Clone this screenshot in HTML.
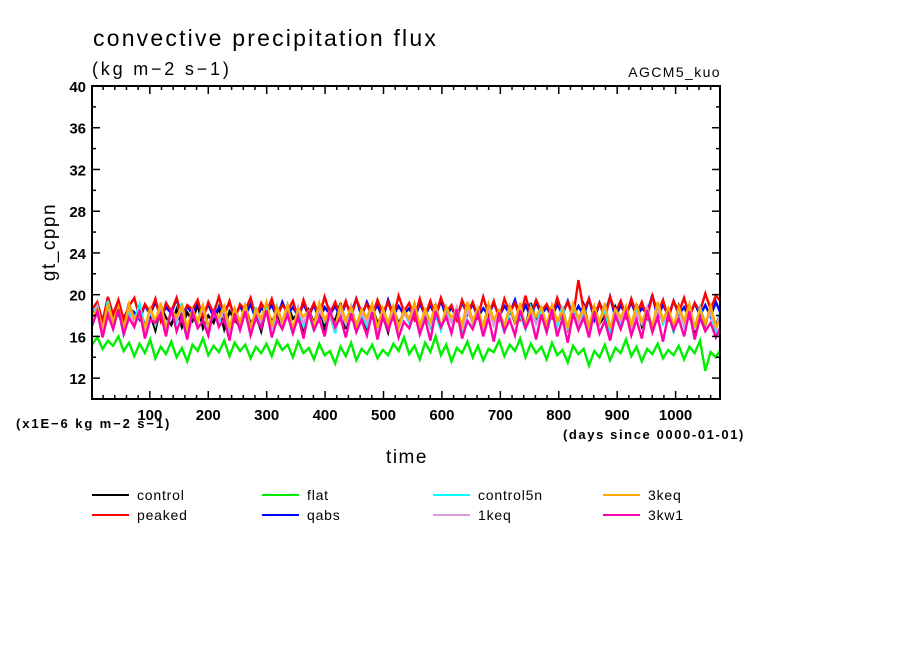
<!DOCTYPE html>
<html><head><meta charset="utf-8"><style>
body{margin:0;background:#fff;}
svg{display:block;font-family:"Liberation Sans",sans-serif;}
</style></head><body>
<svg id="chart" width="904" height="654">
<text x="93" y="46" font-size="23" letter-spacing="2.2">convective precipitation flux</text>
<text x="92" y="75" font-size="18" letter-spacing="2.8">(kg m−2 s−1)</text>
<text x="721" y="77" font-size="14" letter-spacing="1.4" text-anchor="end">AGCM5_kuo</text>
<g id="plot"></g>
<text transform="translate(55,242) rotate(-90)" font-size="19" letter-spacing="1.5" text-anchor="middle">gt_cppn</text>
<text x="16" y="428" font-size="13" font-weight="bold" letter-spacing="1.9">(x1E−6 kg m−2 s−1)</text>
<text x="745" y="439" font-size="13" font-weight="bold" letter-spacing="1.6" text-anchor="end">(days since 0000-01-01)</text>
<text x="407" y="463" font-size="19" letter-spacing="1.5" text-anchor="middle">time</text>
<g id="legend"></g>
</svg>
<script>
const names=["control","peaked","flat","qabs","control5n","1keq","3keq","3kw1"];
const colors=["#000000","#ff0000","#00ee00","#0000ff","#00ffff","#dd99dd","#ffaa00","#ff00aa"];
const days=[];for(let i=0;i<120;i++)days.push(1+i*9.05);
const control=[17.2,18.5,16.9,19.0,17.6,18.2,16.8,19.2,17.4,18.7,17.0,18.1,16.6,18.9,17.8,17.1,18.6,16.9,18.3,17.5,19.1,16.8,18.0,17.3,18.8,16.7,18.4,17.6,16.9,18.9,17.2,18.1,16.5,18.7,17.4,18.3,16.9,19.0,17.7,18.2,16.6,18.5,17.3,18.9,16.8,18.0,17.5,19.2,16.7,18.6,17.1,18.4,16.6,18.8,17.3,18.0,16.4,18.7,17.2,18.3,17.5,18.9,16.7,18.2,17.0,19.1,16.8,18.5,17.4,18.0,16.5,18.8,17.6,18.3,16.9,19.0,17.2,18.4,16.6,18.7,17.3,18.1,16.8,19.2,17.5,18.3,16.4,18.9,17.1,18.5,16.7,18.2,17.4,19.0,16.9,18.6,17.2,18.0,16.3,18.8,17.6,18.2,16.8,19.1,17.0,18.4,16.5,18.7,17.3,18.1,16.6,18.9,17.4,18.3,16.2,18.6,17.1,18.8,16.9,18.5];
const peaked=[18.6,19.3,17.4,19.8,18.1,19.5,17.6,18.9,19.7,17.8,19.1,18.3,19.6,17.5,19.2,18.4,19.7,17.9,19.0,18.6,19.5,17.7,19.3,18.2,19.8,18.0,19.4,17.6,19.1,18.5,19.7,17.8,19.2,18.3,19.6,17.9,19.0,18.4,19.4,17.7,19.5,18.1,19.2,17.9,19.8,18.2,19.3,18.0,19.4,17.8,19.6,18.3,19.1,17.9,19.5,18.2,19.3,17.8,19.9,18.4,19.2,17.7,19.6,18.0,19.4,17.9,19.7,18.3,19.0,17.6,19.5,18.2,19.3,17.9,19.8,18.1,19.4,17.7,19.6,18.3,19.2,17.8,19.9,18.0,19.5,18.4,19.1,17.9,19.7,18.2,19.3,17.8,21.4,18.5,19.6,18.0,19.2,17.7,19.8,18.3,19.4,17.9,19.6,18.1,19.3,17.8,19.9,18.2,19.5,17.7,19.4,18.3,19.7,17.9,19.2,18.4,20.1,18.6,19.9,19.3];
const flat=[15.2,15.9,14.8,15.6,15.1,16.0,14.6,15.4,14.1,15.3,14.4,15.7,13.9,15.0,14.3,15.5,14.0,14.9,13.6,15.2,14.6,15.8,14.2,15.1,14.5,15.6,14.1,15.4,14.6,15.2,13.9,15.0,14.4,15.3,14.1,15.6,14.7,15.2,14.0,15.5,14.4,14.9,13.8,15.3,14.2,14.6,13.4,15.0,14.1,15.4,13.7,14.8,14.3,15.2,13.9,14.7,14.2,15.3,14.6,15.9,14.3,15.1,13.8,15.4,14.5,16.0,14.2,15.2,13.6,14.9,14.4,15.5,14.0,15.1,13.7,14.8,14.5,15.6,14.1,15.2,14.6,15.8,14.0,15.3,14.4,15.0,13.8,15.4,14.2,14.7,13.5,15.1,14.3,14.8,13.2,14.6,14.0,15.2,13.7,14.9,14.4,15.7,14.1,15.0,13.6,14.8,14.3,15.3,13.9,14.7,14.2,15.1,13.8,15.0,14.4,15.6,12.7,14.5,14.0,14.8];
const qabs=[18.1,18.8,17.6,19.2,17.9,18.9,17.8,18.7,18.3,17.6,19.0,18.1,19.3,17.9,18.8,18.2,19.6,17.7,18.9,18.1,19.3,17.9,19.1,17.8,18.8,18.4,19.2,17.9,18.9,18.0,19.1,17.6,18.7,18.2,19.0,17.8,19.3,18.1,18.8,17.9,19.1,18.0,19.0,17.6,18.8,18.1,18.9,17.8,19.2,18.2,19.6,17.9,19.3,18.1,19.0,17.7,19.5,18.0,18.9,18.1,18.7,17.6,19.2,18.0,19.0,17.9,19.4,17.9,18.8,17.7,19.3,18.1,19.1,17.8,18.7,18.0,19.2,17.9,18.9,18.2,19.5,17.7,19.0,17.9,19.3,18.1,18.8,17.8,19.1,18.1,19.4,17.9,18.9,18.0,19.6,17.6,19.2,18.1,19.8,17.8,19.0,18.0,19.3,17.9,18.7,18.2,20.0,17.7,19.1,17.9,19.4,18.1,18.8,17.8,19.2,18.0,19.0,17.9,19.3,18.1];
const control5n=[17.8,18.9,16.4,19.4,17.2,18.6,16.1,18.3,17.5,19.1,16.7,18.4,17.1,18.8,16.5,18.5,17.4,19.2,16.3,18.1,17.6,18.9,16.6,18.4,17.2,19.0,16.1,18.6,17.5,18.2,16.4,18.8,17.1,18.5,16.7,18.9,17.3,18.1,16.2,18.6,17.0,18.3,16.5,18.9,17.4,18.0,16.3,18.7,17.2,18.5,16.6,18.2,17.0,18.8,16.4,18.3,17.1,18.6,16.9,18.4,17.3,18.9,16.2,18.5,17.0,18.1,16.6,18.8,17.4,18.3,16.1,18.7,17.2,18.4,16.5,18.9,17.1,18.2,16.3,18.6,17.5,18.0,16.7,18.8,17.2,18.5,16.4,18.3,17.0,18.9,16.6,18.4,17.3,18.1,16.2,18.7,17.4,18.5,16.5,18.2,17.1,18.8,16.3,18.6,17.5,18.1,16.7,18.9,17.2,18.3,16.4,18.6,17.0,18.4,16.6,18.8,17.3,18.2,16.5,18.7];
const keq1=[17.5,18.8,16.6,18.3,17.1,18.6,16.8,18.9,17.4,18.0,16.7,18.5,17.2,18.9,16.9,18.2,17.6,18.7,16.5,18.4,17.3,18.8,16.8,18.1,17.5,18.6,16.7,18.3,17.2,18.9,16.6,18.5,17.4,18.1,16.9,18.7,17.1,18.4,16.6,18.8,17.3,18.2,16.8,18.6,17.5,18.0,16.7,18.5,17.2,18.9,16.9,18.3,17.4,18.7,16.6,18.4,17.1,18.6,16.8,18.2,17.5,18.9,16.7,18.4,17.2,18.6,16.9,18.1,17.4,18.8,16.6,18.5,17.3,18.2,16.8,18.7,17.1,18.4,16.7,18.9,17.5,18.3,16.9,18.6,17.2,18.0,16.6,18.8,17.4,18.5,16.8,18.2,17.1,18.7,16.7,18.4,17.3,18.9,16.9,18.3,17.5,18.6,16.6,18.1,17.2,18.8,16.8,18.5,17.4,18.2,16.7,18.7,17.1,18.4,16.9,18.6,17.3,18.3,16.8,18.2];
const keq3=[17.9,18.6,16.8,19.0,17.4,18.8,16.6,19.1,17.7,18.3,16.9,18.7,17.5,19.2,16.7,18.5,17.9,18.9,16.8,18.6,17.4,19.0,17.0,18.4,17.8,18.9,16.9,18.7,17.3,19.1,16.8,18.6,17.7,19.3,17.0,18.8,17.4,19.0,16.7,18.6,17.9,18.4,17.1,19.2,17.6,18.5,16.9,19.0,17.5,18.8,17.0,18.6,17.8,19.1,16.8,18.7,17.3,18.9,16.9,18.5,17.7,19.2,17.0,18.6,17.4,19.0,16.8,18.8,17.8,18.4,17.1,19.3,17.5,18.7,16.9,19.1,17.6,18.5,17.0,18.9,17.4,19.2,16.8,18.6,17.9,18.8,17.1,19.0,17.5,18.4,16.9,19.1,17.7,18.7,17.0,18.9,17.3,19.2,16.8,18.6,17.8,18.9,17.1,19.0,17.4,18.5,16.9,19.3,17.6,18.7,17.0,18.8,17.5,19.1,16.8,18.6,17.2,18.9,16.9,17.6];
const kw1=[17.0,18.4,15.9,18.1,16.7,18.6,16.2,17.8,16.9,18.5,15.8,17.6,17.3,18.2,16.0,18.7,16.5,17.9,15.7,18.3,16.8,17.5,16.1,18.6,16.9,17.7,15.6,18.2,16.6,18.4,16.1,17.8,16.8,18.5,15.9,17.6,16.7,18.1,16.3,17.9,15.8,18.4,16.6,17.7,16.0,18.5,16.9,17.8,15.9,18.2,16.4,17.6,16.1,18.3,15.7,17.9,16.6,18.0,15.9,17.4,16.8,18.3,16.2,17.7,15.6,18.4,16.9,17.9,16.3,18.6,15.8,17.5,16.7,18.2,16.0,17.8,15.5,18.3,16.5,17.6,16.1,18.5,16.8,17.9,15.7,18.1,16.4,18.6,16.0,17.7,15.4,18.2,16.6,17.8,15.9,18.4,16.3,17.5,15.6,18.0,16.7,18.3,16.1,17.6,15.8,18.5,16.4,17.9,15.5,18.1,16.6,17.7,16.0,18.4,15.7,17.8,16.5,17.3,15.9,17.0];
const series=[control,peaked,flat,qabs,control5n,keq1,keq3,kw1];
const drawOrder=[0,3,1,2,4,5,6,7];
const yTicks=[12,16,20,24,28,32,36,40];
const xTicks=[100,200,300,400,500,600,700,800,900,1000];
const L=92,R=720,T=86,B=399,X0=1,X1=1076,Y0=10,Y1=40;
const xs=v=>L+(v-X0)/(X1-X0)*(R-L);
const ys=v=>B-(v-Y0)/(Y1-Y0)*(B-T);
const NS="http://www.w3.org/2000/svg";
const plot=document.getElementById('plot');
function mk(tag,attrs,parent){const e=document.createElementNS(NS,tag);for(const k in attrs)e.setAttribute(k,attrs[k]);parent.appendChild(e);return e;}
const clip=mk('clipPath',{id:'cp'},plot);mk('rect',{x:L,y:T,width:R-L,height:B-T},clip);
const lines=mk('g',{'clip-path':'url(#cp)'},plot);
drawOrder.forEach(i=>{const s=series[i];
  const p=mk('polyline',{points:s.map((v,j)=>xs(days[j]).toFixed(1)+','+ys(v).toFixed(1)).join(' '),fill:'none',stroke:colors[i],'stroke-width':2.4},lines);
  
  
});
const fr=mk('rect',{x:L,y:T,width:R-L,height:B-T,fill:'none',stroke:'#000','stroke-width':2},plot);


for(let v=12;v<=40;v+=2){const y=ys(v),len=v%4===0?8:4;
  mk('line',{x1:L,x2:L+len,y1:y,y2:y,stroke:'#000','stroke-width':1.5},plot);
  mk('line',{x1:R,x2:R-len,y1:y,y2:y,stroke:'#000','stroke-width':1.5},plot);}
for(let v=20;v<=1060;v+=20){const x=xs(v),len=v%100===0?8:4;
  mk('line',{x1:x,x2:x,y1:B,y2:B-len,stroke:'#000','stroke-width':1.5},plot);
  mk('line',{x1:x,x2:x,y1:T,y2:T+len,stroke:'#000','stroke-width':1.5},plot);}
yTicks.forEach(v=>{const t=mk('text',{x:L-6,y:ys(v)+6,'font-size':15,'font-weight':'bold','text-anchor':'end'},plot);t.textContent=v;
  
  });
xTicks.forEach(v=>{const t=mk('text',{x:xs(v),y:B+21,'font-size':15,'font-weight':'bold','text-anchor':'middle'},plot);t.textContent=v;
  
  });
const leg=document.getElementById('legend');
const cols=[92,262,433,603],rows=[495,515];
const order=[0,2,4,6,1,3,5,7];
order.forEach((si,k)=>{const x=cols[k%4],y=rows[Math.floor(k/4)];
  const g=mk('g',{},leg);
  
  
  mk('line',{x1:x,x2:x+37,y1:y,y2:y,stroke:colors[si],'stroke-width':2},g);
  const t=mk('text',{x:x+45,y:y+5,'font-size':14,'letter-spacing':'0.8'},g);t.textContent=names[si];});
</script>
</body></html>
